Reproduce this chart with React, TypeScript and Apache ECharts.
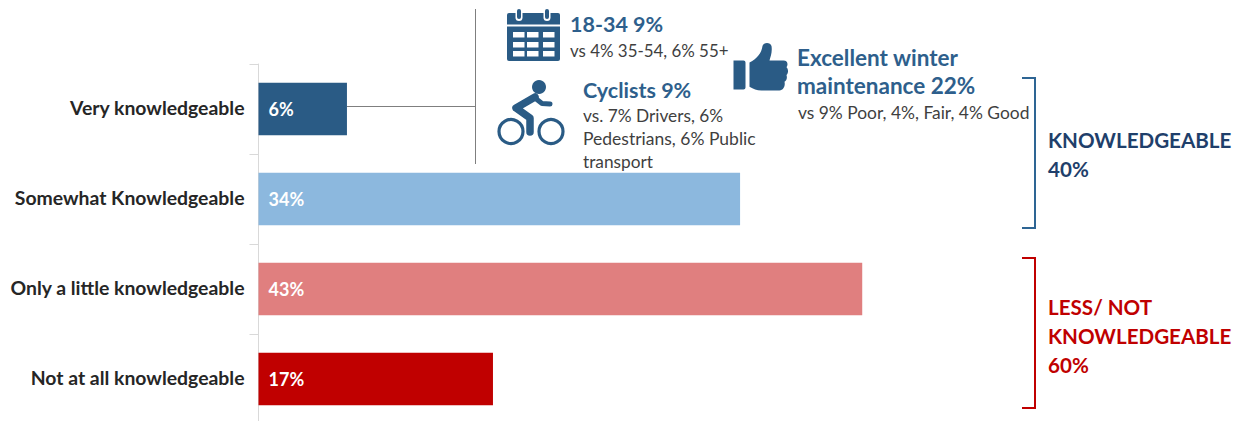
import React, { useEffect, useRef } from "react";
import * as echarts from "echarts";

const categories = ["Very knowledgeable", "Somewhat Knowledgeable", "Only a little knowledgeable", "Not at all knowledgeable"];
const values = [6.3, 34.3, 43, 16.7];
const valueLabels = ["6%", "34%", "43%", "17%"];
const barColors = ["#2A5B85", "#8CB8DE", "#E07F7F", "#C00000"];

const FONT = "Lato, Carlito, sans-serif";
const BLUE = "#2E5F8C";
const NAVY = "#1F3F6B";
const RED = "#C00000";
const GREY = "#3F3F3F";

echarts.graphic.registerShape(
  "thumbUp",
  echarts.graphic.extendPath(
    "M0 18 H10 Q12 18 12 20 V46 Q12 48 10 48 H0 Z M16 20 C24 16 28 10 29 3 C30 -1 37 -1 38 3 C39 9 37 14 36 18 H50 C54 18 55 22 53 25 C55 27 55 31 53 33 C54 36 53 39 51 40 C52 44 50 49 46 49 H28 C23 49 20 47 16 45 Z",
    {}
  )
);

function txt(x: number, y: number, text: string, size: number, color: string, bold = false) {
  return {
    type: "text",
    x,
    y,
    silent: true,
    style: {
      text,
      fill: color,
      font: `${bold ? "bold " : ""}${size}px ${FONT}`,
      textVerticalAlign: "middle",
      textBaseline: "middle",
    },
  };
}

function ln(x1: number, y1: number, x2: number, y2: number, stroke: string, lineWidth: number) {
  return { type: "line", silent: true, shape: { x1, y1, x2, y2 }, style: { stroke, lineWidth } };
}

function bracket(x0: number, x1: number, y0: number, y1: number, stroke: string) {
  return {
    type: "polyline",
    silent: true,
    shape: { points: [[x0, y0], [x1, y0], [x1, y1], [x0, y1]] },
    style: { stroke, lineWidth: 2, fill: "none" },
  };
}

function calendar() {
  const c = "#2A5B85";
  const out: any[] = [];
  out.push({ type: "rect", silent: true, shape: { x: 507, y: 13, width: 53, height: 48, r: 2 }, style: { fill: c } });
  out.push({ type: "rect", silent: true, shape: { x: 507, y: 24.5, width: 53, height: 2 }, style: { fill: "#fff" } });
  [519, 547].forEach((x) => {
    out.push({ type: "rect", silent: true, shape: { x: x - 3.5, y: 8, width: 7, height: 13, r: 3.5 }, style: { fill: "#fff" } });
    out.push({ type: "rect", silent: true, shape: { x: x - 2, y: 9, width: 4, height: 10, r: 2 }, style: { fill: c } });
  });
  [32, 42, 51].forEach((y) => {
    [513, 527, 543].forEach((x) => {
      out.push({ type: "rect", silent: true, shape: { x, y, width: 11.5, height: 5.5 }, style: { fill: "#fff" } });
    });
  });
  return out;
}

function bicycle() {
  const c = "#2A5B85";
  const wheel = (cx: number) => ({
    type: "circle",
    silent: true,
    shape: { cx, cy: 131.5, r: 12 },
    style: { fill: "none", stroke: c, lineWidth: 3.2 },
  });
  const limb = (points: number[][], lineWidth: number) => ({
    type: "polyline",
    silent: true,
    shape: { points },
    style: { stroke: c, lineWidth, fill: "none", lineCap: "round", lineJoin: "round" },
  });
  return [
    wheel(511),
    wheel(551),
    { type: "circle", silent: true, shape: { cx: 539, cy: 87, r: 7 }, style: { fill: c } },
    limb([[535, 97], [516, 108], [530, 118], [530, 132]], 7.5),
    limb([[535, 98], [542, 103.5], [550, 104]], 5),
  ];
}

const graphics: any[] = [
  ln(347, 106.5, 475, 106.5, "#7F7F7F", 1),
  ln(475.5, 9, 475.5, 164, "#7F7F7F", 1),
  ...calendar(),
  ...bicycle(),
  { type: "thumbUp", silent: true, x: 733.5, y: 43, scaleX: 1, scaleY: 0.97, style: { fill: "#2A5B85" } },
  txt(570, 23.5, "18-34 9%", 21.5, BLUE, true),
  txt(570, 50, "vs 4% 35-54, 6% 55+", 16.9, GREY),
  txt(583, 89.5, "Cyclists 9%", 21.5, BLUE, true),
  txt(583, 115, "vs. 7% Drivers, 6%", 17.3, GREY),
  txt(583, 138, "Pedestrians, 6% Public", 17.5, GREY),
  txt(583, 161, "transport", 17.3, GREY),
  txt(797, 57, "Excellent winter", 22.5, BLUE, true),
  txt(797, 85, "maintenance 22%", 22.5, BLUE, true),
  txt(798, 112, "vs 9% Poor, 4%, Fair, 4% Good", 17.4, GREY),
  bracket(1022, 1035, 78, 228, "#2E6594"),
  bracket(1022, 1035, 258, 408, RED),
  txt(1048, 140, "KNOWLEDGEABLE", 20.6, NAVY, true),
  txt(1048, 168.5, "40%", 20.6, NAVY, true),
  txt(1048, 307, "LESS/ NOT", 20.6, RED, true),
  txt(1048, 335.5, "KNOWLEDGEABLE", 20.6, RED, true),
  txt(1048, 364.5, "60%", 20.6, RED, true),
];

export default function App() {
  const ref = useRef<HTMLDivElement>(null);
  useEffect(() => {
    document.body.style.margin = "0";
    const chart = echarts.init(ref.current!, undefined, { renderer: "svg" });
    chart.setOption({
      animation: false,
      backgroundColor: "#FFFFFF",
      grid: { left: 258.5, top: 64, width: 984.5, height: 360 },
      xAxis: { type: "value", min: 0, max: 70.12, show: false },
      yAxis: {
        type: "category",
        inverse: true,
        data: categories,
        axisLine: { show: true, lineStyle: { color: "#D9D9D9", width: 1 } },
        axisTick: { show: true, length: 9, lineStyle: { color: "#D9D9D9", width: 1 } },
        axisLabel: {
          color: "#262626",
          fontFamily: FONT,
          fontWeight: "bold",
          fontSize: 19.4,
          margin: 14,
          verticalAlign: "bottom",
          lineHeight: 3,
        },
      },
      series: [
        {
          type: "bar",
          barWidth: 52.5,
          data: values.map((v, i) => ({ value: v, itemStyle: { color: barColors[i] } })),
          label: {
            show: true,
            position: "insideLeft",
            distance: 10,
            color: "#FFFFFF",
            fontFamily: FONT,
            fontWeight: "bold",
            fontSize: 18,
            formatter: (p: any) => valueLabels[p.dataIndex],
          },
        },
      ],
      graphic: graphics,
    });
    return () => chart.dispose();
  }, []);
  return (
    <div style={{ width: 1243, height: 421, overflow: "hidden" }}>
      <div ref={ref} style={{ width: 1243, height: 430 }} />
    </div>
  );
}
